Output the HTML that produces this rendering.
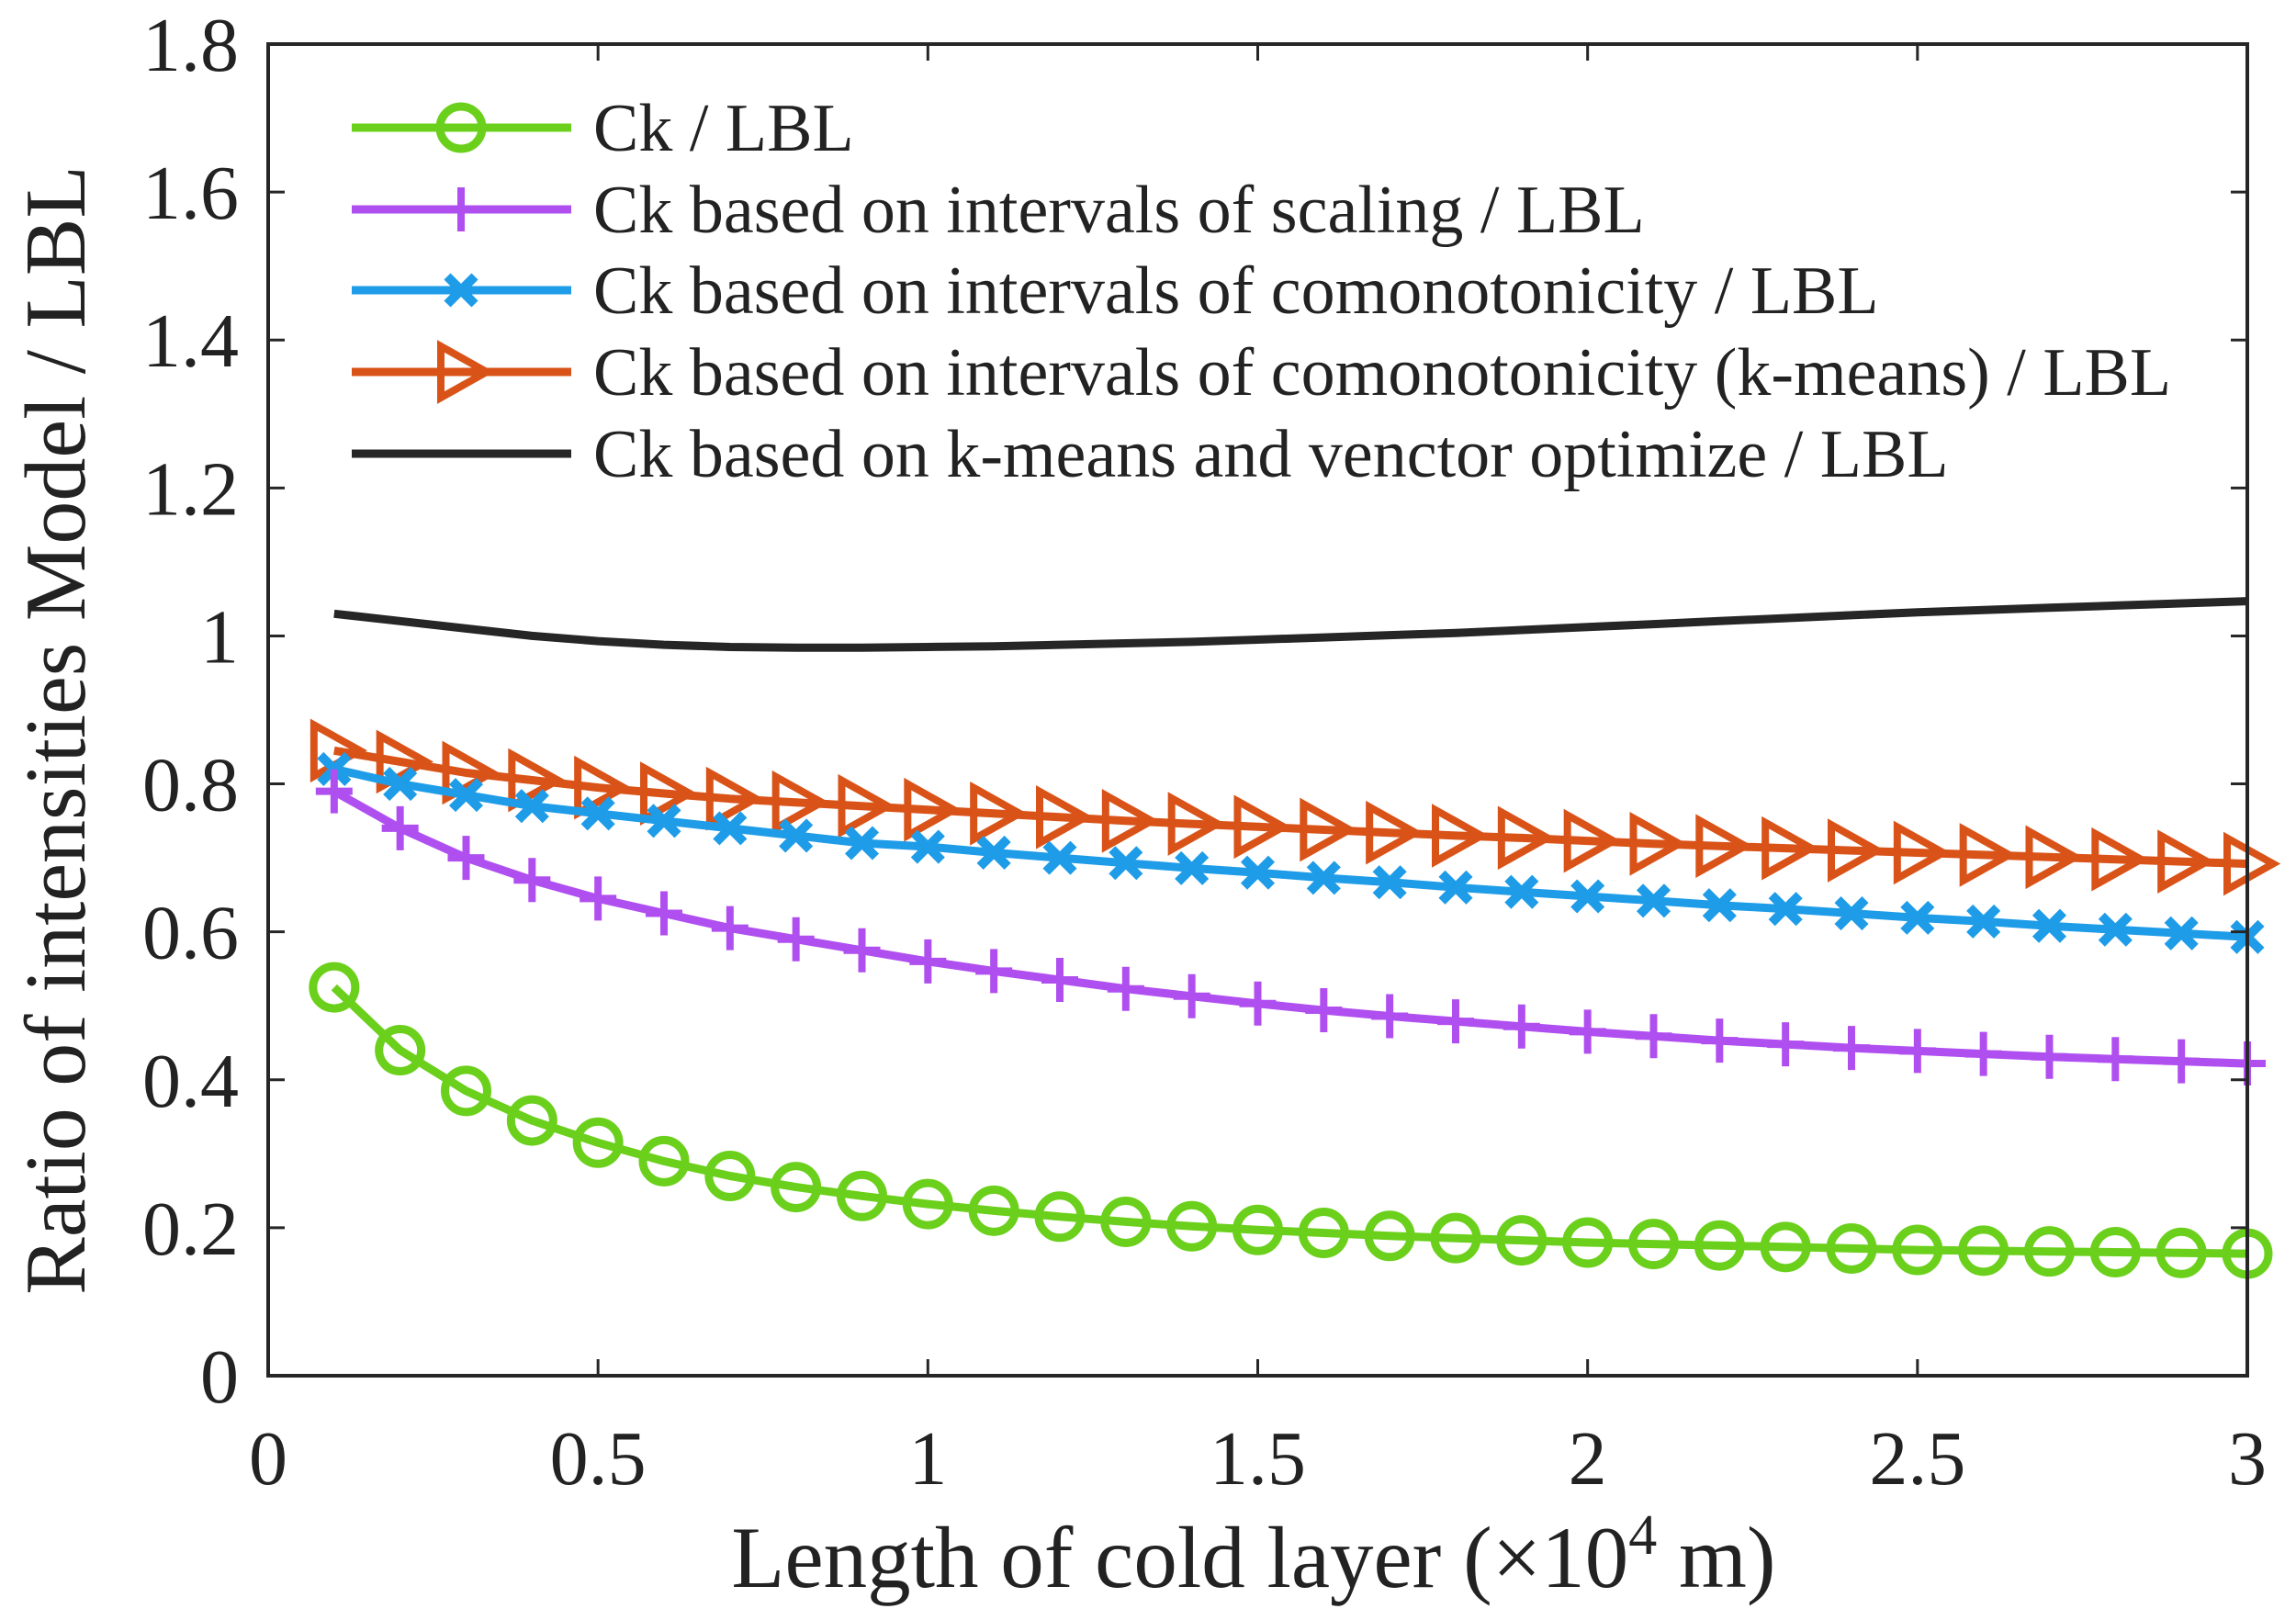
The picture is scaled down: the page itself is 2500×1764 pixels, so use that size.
<!DOCTYPE html>
<html><head><meta charset="utf-8"><style>
html,body{margin:0;padding:0;background:#fff}
svg{display:block}
text{font-family:"Liberation Serif",serif;fill:#222}
</style></head><body>
<svg id="chart" width="2500" height="1764" viewBox="0 0 2500 1764" xmlns="http://www.w3.org/2000/svg">
<g id="grid"></g><g id="series"></g><g id="axes"></g><g id="legend"></g>
</svg>
<script>
const xValues=[0.1,0.2,0.3,0.4,0.5,0.6,0.7,0.8,0.9,1.0,1.1,1.2,1.3,1.4,1.5,1.6,1.7,1.8,1.9,2.0,2.1,2.2,2.3,2.4,2.5,2.6,2.7,2.8,2.9,3.0];
const ckLbl=[0.525,0.44,0.385,0.345,0.315,0.29,0.27,0.255,0.243,0.232,0.223,0.215,0.208,0.202,0.197,0.193,0.189,0.186,0.183,0.18,0.178,0.176,0.174,0.172,0.17,0.169,0.168,0.167,0.166,0.165];
const ckScaling=[0.79,0.74,0.70,0.67,0.645,0.625,0.605,0.59,0.575,0.56,0.547,0.535,0.523,0.513,0.503,0.494,0.486,0.479,0.472,0.465,0.459,0.453,0.448,0.443,0.439,0.435,0.431,0.428,0.425,0.422];
const ckComono=[0.82,0.80,0.785,0.77,0.76,0.75,0.74,0.73,0.72,0.715,0.707,0.70,0.693,0.686,0.68,0.673,0.667,0.66,0.654,0.648,0.642,0.636,0.631,0.625,0.619,0.614,0.608,0.603,0.598,0.593];
const ckKmeans=[0.845,0.83,0.815,0.805,0.795,0.787,0.78,0.775,0.77,0.765,0.76,0.755,0.75,0.746,0.742,0.738,0.734,0.73,0.727,0.723,0.719,0.716,0.713,0.71,0.707,0.704,0.701,0.698,0.695,0.692];
const ckVector=[1.03,1.02,1.01,1.0,0.993,0.988,0.985,0.984,0.984,0.985,0.986,0.988,0.99,0.992,0.995,0.998,1.001,1.004,1.008,1.012,1.016,1.02,1.024,1.028,1.032,1.035,1.038,1.041,1.044,1.047];
const xTicks=[0,0.5,1,1.5,2,2.5,3];
const xTickLabels=["0","0.5","1","1.5","2","2.5","3"];
const yTicks=[0,0.2,0.4,0.6,0.8,1,1.2,1.4,1.6,1.8];
const yTickLabels=["0","0.2","0.4","0.6","0.8","1","1.2","1.4","1.6","1.8"];
const legendLabels=["Ck / LBL","Ck based on intervals of scaling / LBL","Ck based on intervals of comonotonicity / LBL","Ck based on intervals of comonotonicity (k-means) / LBL","Ck based on k-means and venctor optimize / LBL"];

const L=292,R=2447,T=48,B=1498;
const xs=v=>L+(v-0)/(3-0)*(R-L);
const ys=v=>B-(v-0)/(1.8-0)*(B-T);
const NS="http://www.w3.org/2000/svg";
function mk(tag,attrs,parent){const e=document.createElementNS(NS,tag);for(const k in attrs)e.setAttribute(k,attrs[k]);parent.appendChild(e);return e;}
const axes=document.getElementById('axes'),series=document.getElementById('series'),legend=document.getElementById('legend');

const frame=mk('rect',{x:L,y:T,width:R-L,height:B-T,fill:'none',stroke:'#262626','stroke-width':4},axes);


xTicks.forEach((t,i)=>{
  const x=xs(t);
  mk('line',{x1:x,y1:B,x2:x,y2:B-18,stroke:'#262626','stroke-width':3},axes);
  mk('line',{x1:x,y1:T,x2:x,y2:T+18,stroke:'#262626','stroke-width':3},axes);
  const tx=mk('text',{x:x,y:B+118,'font-size':84,'text-anchor':'middle'},axes);
  tx.textContent=xTickLabels[i];
  
  
});
yTicks.forEach((t,i)=>{
  const y=ys(t);
  mk('line',{x1:L,y1:y,x2:L+18,y2:y,stroke:'#262626','stroke-width':3},axes);
  mk('line',{x1:R,y1:y,x2:R-18,y2:y,stroke:'#262626','stroke-width':3},axes);
  const tx=mk('text',{x:L-32,y:y+29,'font-size':84,'text-anchor':'end'},axes);
  tx.textContent=yTickLabels[i];
  
  
});
const xt=mk('text',{x:1365,y:1728,'font-size':95,'text-anchor':'middle'},axes);
xt.innerHTML='Length of cold layer (×10<tspan dy="-36" font-size="62">4</tspan><tspan dy="36"> m)</tspan>';


const yt=mk('text',{x:0,y:0,'font-size':94,'text-anchor':'middle',transform:'translate(92,795) rotate(-90)'},axes);
yt.textContent='Ratio of intensities Model / LBL';



function marker(type,x,y,color,g){
  if(type==='circle') mk('circle',{cx:x,cy:y,r:23,fill:'none',stroke:color,'stroke-width':9},g);
  else if(type==='plus'){mk('path',{d:`M${x-20},${y}H${x+20}M${x},${y-24}V${y+24}`,stroke:color,'stroke-width':8,fill:'none'},g);}
  else if(type==='x'){mk('path',{d:`M${x-15},${y-15}L${x+15},${y+15}M${x-15},${y+15}L${x+15},${y-15}`,stroke:color,'stroke-width':10,fill:'none'},g);}
  else if(type==='tri'){mk('path',{d:`M${x-22},${y-28}L${x+28},${y}L${x-22},${y+28}Z`,stroke:color,'stroke-width':8,fill:'none','stroke-linejoin':'miter'},g);}
}
const defs=[
 {vals:ckVector,color:'#262626',m:null,name:'series-kmeans-vector'},
 {vals:ckKmeans,color:'#d95319',m:'tri',name:'series-comonotonicity-kmeans'},
 {vals:ckComono,color:'#1e9ce8',m:'x',name:'series-comonotonicity'},
 {vals:ckScaling,color:'#b04ff0',m:'plus',name:'series-scaling'},
 {vals:ckLbl,color:'#6bd01c',m:'circle',name:'series-ck'}
];
defs.forEach(d=>{
  const g=mk('g',{},series);
  
  
  const pts=xValues.map((x,i)=>xs(x).toFixed(1)+','+ys(d.vals[i]).toFixed(1)).join(' ');
  mk('polyline',{points:pts,fill:'none',stroke:d.color,'stroke-width':9,'stroke-linejoin':'round'},g);
  if(d.m) xValues.forEach((x,i)=>marker(d.m,xs(x),ys(d.vals[i]),d.color,g));
});
const legOrder=[
 {color:'#6bd01c',m:'circle'},{color:'#b04ff0',m:'plus'},{color:'#1e9ce8',m:'x'},{color:'#d95319',m:'tri'},{color:'#262626',m:null}
];
const legY=[139,228,316,405,494];
legOrder.forEach((o,i)=>{
  const g=mk('g',{},legend);
  
  
  const y=legY[i];
  mk('line',{x1:383,y1:y,x2:622,y2:y,stroke:o.color,'stroke-width':9},g);
  if(o.m) marker(o.m,502,y,o.color,g);
  const t=mk('text',{x:646,y:y+25,'font-size':74},g);
  t.textContent=legendLabels[i];
});
</script>
</body></html>
